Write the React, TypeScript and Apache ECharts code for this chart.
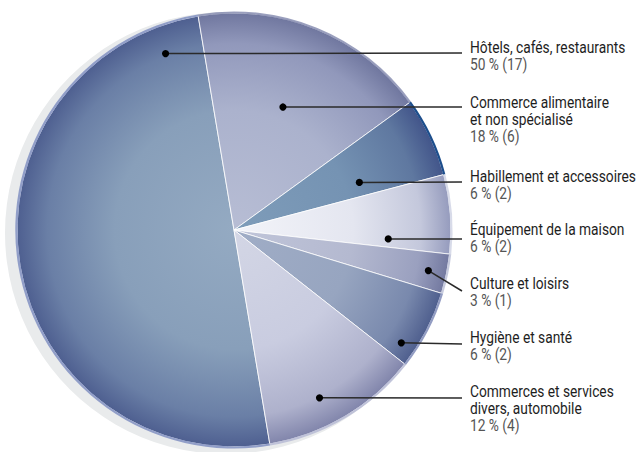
import React, { useEffect, useRef } from 'react';
import * as echarts from 'echarts';

// ---- data ----
const categories = [
  'Hôtels, cafés, restaurants',
  'Commerce alimentaire\net non spécialisé',
  'Habillement et accessoires',
  'Équipement de la maison',
  'Culture et loisirs',
  'Hygiène et santé',
  'Commerces et services\ndivers, automobile',
];
const counts = [17, 6, 2, 2, 1, 2, 4];

// ---- styles ----
const innerColors = ['#94aac2', '#b7bdd4', '#7e9cb9', '#f3f4f9', '#c0c5d9', '#a0adc6', '#d3d6e5'];
const midColors = ['#889fba', '#abb2cd', '#7593b3', '#e4e6f0', '#b4b9d0', '#97a5c0', '#c9cce0'];
const edgeColors = ['#6a7fa6', '#9198bb', '#5f78a0', '#c4c8dc', '#9aa0bf', '#7989ad', '#aeb1cc'];
const rimColors = ['#4e5f90', '#70779f', '#42558a', '#959bbd', '#7379a0', '#4f5f8e', '#8185ab'];
const outerRimColors = [
  'rgba(140,154,198,0.95)',
  'rgba(112,120,162,0.7)',
  '#1d4e8c',
  'rgba(214,217,232,0.95)',
  'rgba(196,200,220,0.95)',
  'rgba(128,140,184,0.85)',
  'rgba(186,190,214,0.9)',
];

// ---- layout ----
const CX = 234;
const CY = 230;
const R = 217;
const START_ANGLE = 279.5;
const dotFrac = [0.872, 0.61, 0.618, 0.712, 0.915, 0.93, 0.868];
const dotAngle = [111.2, 68.3, 20.8, -3.3, -11.8, -34.0, -63.0];
const labelX = 470;
const leaderEndX = 462;
const labelTop = [39.5, 94.5, 168, 221, 275.5, 329.5, 383.5];
const leaderEndY = [53, 107, 182, 239, 291, 344, 398];
const LINE_H = 16.8;
const FONT_SIZE = 17;
const FONT_FAMILY = 'Roboto, "Noto Sans", sans-serif';
const WIDEST_LABEL = 'Habillement et accessoires';
const WIDEST_LABEL_PX = 166; // its width in the reference

function dotPos(i: number): [number, number] {
  const a = (dotAngle[i] * Math.PI) / 180;
  return [CX + dotFrac[i] * R * Math.cos(a), CY - dotFrac[i] * R * Math.sin(a)];
}

function condenseScale(): number {
  const c = document.createElement('canvas');
  const ctx = c.getContext('2d');
  if (!ctx) return 0.8;
  ctx.font = `${FONT_SIZE}px ${FONT_FAMILY}`;
  const w = ctx.measureText(WIDEST_LABEL).width;
  return w > 0 ? WIDEST_LABEL_PX / w : 0.8;
}

export default function App() {
  const ref = useRef<HTMLDivElement>(null);
  useEffect(() => {
    if (!ref.current) return;
    const chart = echarts.init(ref.current, undefined, { renderer: 'svg' });
    const total = counts.reduce((a, b) => a + b, 0);
    const sx = condenseScale();
    const data = categories.map((name, i) => ({
      name,
      value: counts[i],
      itemStyle: {
        color: {
          type: 'radial',
          x: CX,
          y: CY,
          r: R,
          global: true,
          colorStops: [
            { offset: 0, color: innerColors[i] },
            { offset: 0.55, color: midColors[i] },
            { offset: 0.86, color: edgeColors[i] },
            { offset: 1, color: rimColors[i] },
          ],
        },
      },
    }));
    const rimData = categories.map((name, i) => ({
      name,
      value: counts[i],
      itemStyle: { color: outerRimColors[i] },
    }));

    const graphics: any[] = [];
    categories.forEach((name, i) => {
      const [x, y] = dotPos(i);
      const pct = Math.round((counts[i] / total) * 100);
      const nLines = name.split('\n').length;
      graphics.push({
        type: 'polyline',
        z: 99,
        silent: true,
        shape: { points: [[x, y], [leaderEndX, leaderEndY[i]]] },
        style: { stroke: '#2a2a2a', lineWidth: 1.5, fill: null },
      });
      graphics.push({
        type: 'circle',
        z: 100,
        silent: true,
        shape: { cx: x, cy: y, r: 3.6 },
        style: { fill: '#000' },
      });
      graphics.push({
        type: 'group',
        x: labelX,
        y: labelTop[i],
        scaleX: sx,
        silent: true,
        children: [
          {
            type: 'text',
            x: 0,
            y: 0,
            style: {
              text: name,
              fontSize: FONT_SIZE,
              fontFamily: FONT_FAMILY,
              lineHeight: LINE_H,
              fill: '#1e1e1e',
              verticalAlign: 'top',
              align: 'left',
            },
          },
          {
            type: 'text',
            x: 0,
            y: nLines * LINE_H,
            style: {
              text: `${pct} % (${counts[i]})`,
              fontSize: FONT_SIZE,
              fontFamily: FONT_FAMILY,
              lineHeight: LINE_H,
              fill: '#555555',
              verticalAlign: 'top',
              align: 'left',
            },
          },
        ],
      });
    });

    chart.setOption({
      animation: false,
      backgroundColor: '#ffffff',
      graphic: graphics,
      series: [
        {
          type: 'pie',
          silent: true,
          z: 1,
          center: [CX - 8, CY + 3],
          radius: R + 4,
          label: { show: false },
          labelLine: { show: false },
          itemStyle: { color: '#e9ebec' },
          data: [1],
        },
        {
          type: 'pie',
          z: 2,
          silent: true,
          center: [CX, CY],
          radius: R,
          startAngle: START_ANGLE,
          clockwise: true,
          itemStyle: { borderColor: 'rgba(255,255,255,0.8)', borderWidth: 1 },
          label: { show: false },
          labelLine: { show: false },
          data,
        },
        {
          type: 'pie',
          silent: true,
          z: 3,
          center: [CX, CY],
          radius: [R - 0.6, R + 1.6],
          startAngle: START_ANGLE,
          clockwise: true,
          label: { show: false },
          labelLine: { show: false },
          itemStyle: { borderWidth: 0 },
          data: rimData,
        },
      ],
    });
    return () => chart.dispose();
  }, []);
  return (
    <div
      ref={ref}
      style={{ position: 'absolute', left: 0, top: 0, width: 639, height: 452, background: '#fff' }}
    />
  );
}
